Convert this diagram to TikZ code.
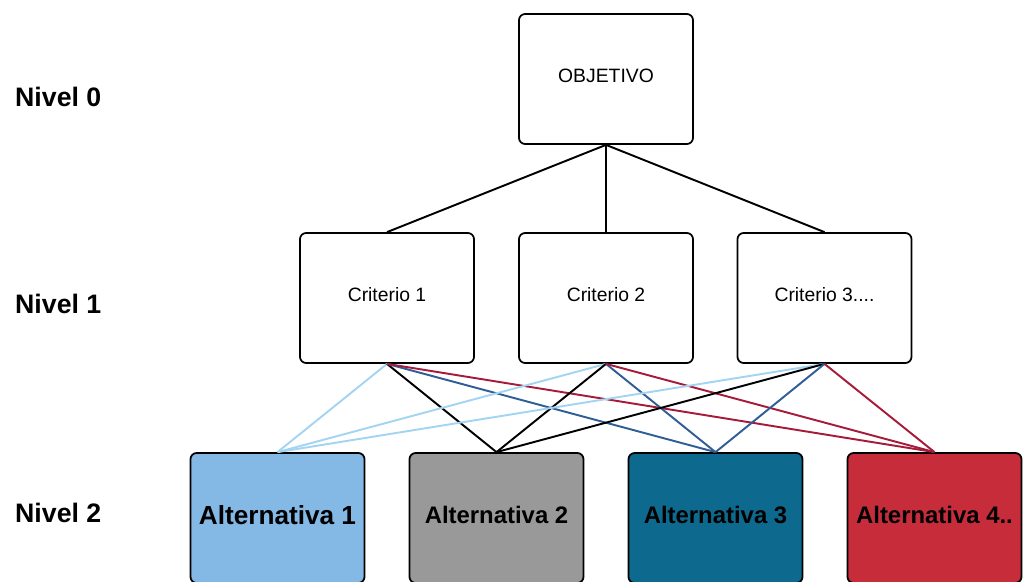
\documentclass[tikz,border=0pt]{standalone}
\usepackage{fontspec}
\setmainfont{Liberation Sans}
\usepackage{xcolor}
\usetikzlibrary{positioning}

\definecolor{altonefill}{HTML}{85B9E5}
\definecolor{alttwofill}{HTML}{999999}
\definecolor{altthreefill}{HTML}{0D6A8E}
\definecolor{altfourfill}{HTML}{C72C3A}
\definecolor{altoneline}{HTML}{A3D5F2}
\definecolor{altthreeline}{HTML}{2F5D96}
\definecolor{altfourline}{HTML}{A61A3A}

\begin{document}
\begin{tikzpicture}[
            box/.style = {draw, line width = 1pt, rounded corners = 3.5pt, minimum width = 3.48cm, minimum height = 2.6cm, text depth = 3.5pt, font = \fontsize{11}{13}\selectfont},
            altbox/.style = {box, font = \fontsize{13.6}{16}\selectfont\bfseries},
            level/.style = {anchor = west, font = \fontsize{15.2}{18}\selectfont\bfseries},
            link/.style = {line width = 1.1pt}]
            \useasboundingbox (0,0) rectangle (20.46,-11.64);
            \node[box] (goal) at (12.12,-1.58) {OBJETIVO};
            \node[box] (crit1) at (7.74,-5.96) {Criterio 1};
            \node[box] (crit2) at (12.12,-5.96) {Criterio 2};
            \node[box] (crit3) at (16.49,-5.96) {Criterio 3....};
            \node[altbox, fill = altonefill, font = \fontsize{14.9}{17}\selectfont\bfseries] (alt1) at (5.55,-10.36) {Alternativa 1};
            \node[altbox, fill = alttwofill] (alt2) at (9.93,-10.36) {Alternativa 2};
            \node[altbox, fill = altthreefill] (alt3) at (14.31,-10.36) {Alternativa 3};
            \node[altbox, fill = altfourfill] (alt4) at (18.69,-10.36) {Alternativa 4..};
            \node[level] (lvl0) at (0.18,-1.94) {Nivel 0};
            \node[level] (lvl1) at (0.18,-6.08) {Nivel 1};
            \node[level] (lvl2) at (0.18,-10.26) {Nivel 2};
            \foreach \c in {crit1,crit2,crit3}
                \draw[link] (goal.south) -- (\c.north);
            \foreach \c in {crit1,crit2,crit3}
                \foreach \a/\col in {alt1/altoneline,alt2/black,alt3/altthreeline,alt4/altfourline}
                    \draw[link, \col] (\c.south) -- (\a.north);
        \end{tikzpicture}
\end{document}
